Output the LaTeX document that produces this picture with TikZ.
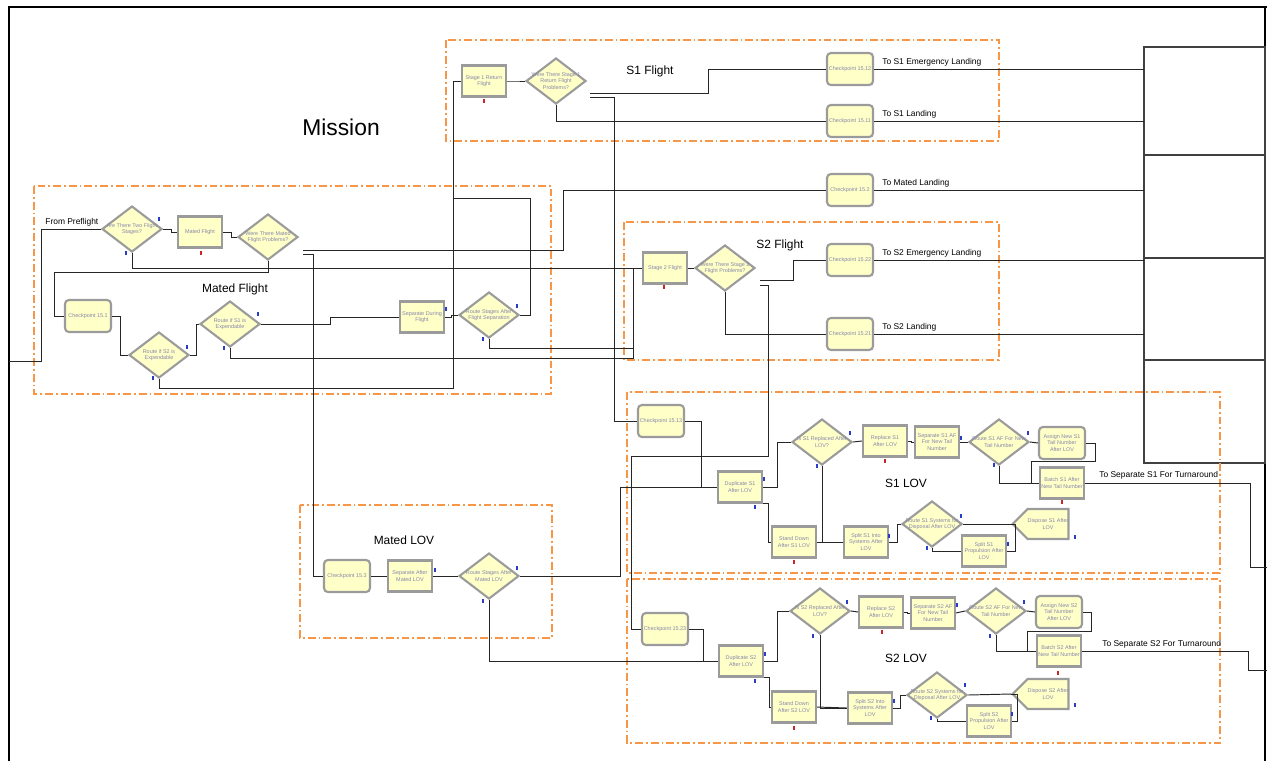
\documentclass[tikz,border=0pt]{standalone}
\usepackage{fontspec}
\setmainfont{Liberation Sans}
\usetikzlibrary{shapes.geometric,shapes.symbols,calc}

\definecolor{modfill}{RGB}{255,255,200}
\definecolor{modedge}{RGB}{155,155,155}
\definecolor{modtext}{RGB}{135,135,170}
\definecolor{grpline}{RGB}{247,150,70}
\definecolor{mkblue}{RGB}{40,60,200}
\definecolor{mkred}{RGB}{200,40,40}

\begin{document}
\begin{tikzpicture}[x=0.02cm, y=-0.02cm,
		wire/.style={line width=0.55pt, draw=black!85},
		grp/.style={draw=grpline, line width=0.6pt, dash pattern=on 4.5pt off 1.7pt on 1pt off 1.7pt},
		mod/.style={draw=modedge, line width=1.2pt, fill=modfill, inner sep=0pt, font=\fontsize{3.1}{3.6}\selectfont, text=modtext, align=center},
		box/.style={mod, rectangle, minimum width=0.88cm, minimum height=0.62cm},
		chk/.style={mod, rectangle, rounded corners=2.2pt, minimum width=0.92cm, minimum height=0.64cm},
		dec/.style={mod, diamond, minimum width=1.2cm, minimum height=0.92cm},
		disp/.style={mod, signal, signal to=west, signal from=nowhere, minimum width=1cm, minimum height=0.6cm},
		dtxt/.style={font=\fontsize{3.1}{3.6}\selectfont, text=modtext, align=center, inner sep=0pt},
		lbl/.style={font=\fontsize{4.8}{5.5}\selectfont, anchor=base west, inner sep=0pt},
		title/.style={font=\fontsize{6.8}{8}\selectfont, anchor=base, inner sep=0pt},
		cell/.style={draw=black!75, line width=0.6pt, anchor=north west, minimum width=2.42cm, inner sep=0pt, outer sep=0pt},
		bmark/.style={fill=mkblue},
		rmark/.style={fill=mkred}]
	\useasboundingbox (0,0) rectangle (1267,761);
	
	% 1. 外框与右侧出口方块
	\draw[line width=1.1pt] (9,761) -- (9,7) -- (1267,7);
	\draw[line width=0.6pt] (1265,7) -- (1265,761);
	\node[cell, minimum height=2.16cm] (exA) at (1144,47) {};
	\node[cell, minimum height=2.06cm] (exB) at (1144,155) {};
	\node[cell, minimum height=2.04cm] (exC) at (1144,258) {};
	\node[cell, minimum height=2.06cm] (exD) at (1144,360) {};
	
	% 2. 分组虚线框与标题
	\draw[grp] (34,186) rectangle (551,394);
	\draw[grp] (446,40) rectangle (999,141);
	\draw[grp] (624,222) rectangle (999,360);
	\draw[grp] (300,505) rectangle (552,638);
	\draw[grp] (627,392) rectangle (1220,573);
	\draw[grp] (627,579) rectangle (1220,743);
	\node[title, font=\fontsize{13}{15}\selectfont] (tmission) at (341,135) {Mission};
	\node[title] (tmatedfl) at (235,292) {Mated Flight};
	\node[title] (ts1fl) at (650,74) {S1 Flight};
	\node[title] (ts2fl) at (780,248) {S2 Flight};
	\node[title] (tmatedlov) at (404,544) {Mated LOV};
	\node[title] (ts1lov) at (906,487) {S1 LOV};
	\node[title] (ts2lov) at (906,662) {S2 LOV};
	
	% 3. 模块: Mated Flight
	\node[dec, label={[dtxt]center:Are There Two Flight\\Stages?}] (twostg) at (132,229) {};
	\node[box] (matedfl) at (200,232) {Mated Flight};
	\node[dec, label={[dtxt]center:Were There Mated\\Flight Problems?}] (matedprob) at (268,237) {};
	\node[chk] (ck151) at (88,316) {Checkpoint 15.1};
	\node[dec, label={[dtxt]center:Route if S2 is\\Expendable}] (rts2) at (159,355) {};
	\node[dec, label={[dtxt]center:Route if S1 is\\Expendable}] (rts1) at (230,324) {};
	\node[box] (sepfl) at (422,317) {Separate During\\Flight};
	\node[dec, label={[dtxt]center:Route Stages After\\Flight Separation}] (rtsep) at (489,315) {};
	
	% 4. 模块: S1 Flight / S2 Flight
	\node[box] (s1ret) at (484,81) {Stage 1 Return\\Flight};
	\node[dec, label={[dtxt]center:Were There Stage 1\\Return Flight\\Problems?}] (s1prob) at (556,81) {};
	\node[chk] (ck1512) at (850,69) {Checkpoint 15.12};
	\node[chk] (ck1511) at (850,121) {Checkpoint 15.11};
	\node[chk] (ck152) at (850,190) {Checkpoint 15.2};
	\node[box] (s2fl) at (665,268) {Stage 2 Flight};
	\node[dec, label={[dtxt]center:Were There Stage 2\\Flight Problems?}] (s2prob) at (725,268) {};
	\node[chk] (ck1522) at (850,260) {Checkpoint 15.22};
	\node[chk] (ck1521) at (850,334) {Checkpoint 15.21};
	
	% 5. 模块: Mated LOV
	\node[chk] (ck153) at (347,576) {Checkpoint 15.3};
	\node[box] (sepml) at (410,576) {Separate After\\Mated LOV};
	\node[dec, label={[dtxt]center:Route Stages After\\Mated LOV}] (rtml) at (489,576) {};
	
	% 6. 模块: S1 LOV
	\node[chk] (ck1513) at (661,421) {Checkpoint 15.13};
	\node[box] (dup1) at (740,487) {Duplicate S1\\After LOV};
	\node[dec, label={[dtxt]center:Is S1 Replaced After\\LOV?}] (isrep1) at (822,442) {};
	\node[box] (rep1) at (885,441) {Replace S1\\After LOV};
	\node[box] (sepaf1) at (937,442) {Separate S1 AF\\For New Tail\\Number};
	\node[dec, label={[dtxt]center:Route S1 AF For New\\Tail Number}] (rtaf1) at (999,442) {};
	\node[chk] (asg1) at (1062,443) {Assign New S1\\Tail Number\\After LOV};
	\node[box] (bat1) at (1062,483) {Batch S1 After\\New Tail Number};
	\node[box] (std1) at (794,542) {Stand Down\\After S1 LOV};
	\node[box] (spl1) at (866,542) {Split S1 Into\\Systems After\\LOV};
	\node[dec, label={[dtxt]center:Route S1 Systems for\\Disposal After LOV}] (rtsys1) at (932,524) {};
	\node[box] (splp1) at (984,551) {Split S1\\Propulsion After\\LOV};
	\node[disp] (dsp1) at (1048,524) {Dispose S1 After\\LOV};
	
	% 7. 模块: S2 LOV
	\node[chk] (ck1523) at (665,629) {Checkpoint 15.23};
	\node[box] (dup2) at (741,661) {Duplicate S2\\After LOV};
	\node[dec, label={[dtxt]center:Is S2 Replaced After\\LOV?}] (isrep2) at (820,611) {};
	\node[box] (rep2) at (881,612) {Replace S2\\After LOV};
	\node[box] (sepaf2) at (933,613) {Separate S2 AF\\For New Tail\\Number};
	\node[dec, label={[dtxt]center:Route S2 AF For New\\Tail Number}] (rtaf2) at (996,611) {};
	\node[chk] (asg2) at (1059,612) {Assign New S2\\Tail Number\\After LOV};
	\node[box] (bat2) at (1059,651) {Batch S2 After\\New Tail Number};
	\node[box] (std2) at (794,707) {Stand Down\\After S2 LOV};
	\node[box] (spl2) at (870,708) {Split S2 Into\\Systems After\\LOV};
	\node[dec, label={[dtxt]center:Route S2 Systems for\\Disposal After LOV}] (rtsys2) at (937,695) {};
	\node[box] (splp2) at (989,721) {Split S2\\Propulsion After\\LOV};
	\node[disp] (dsp2) at (1048,694) {Dispose S2 After\\LOV};
	
	% 8. 连线: Mated Flight
	\coordinate (pre) at (9,361);
	\draw[wire] (pre) -- (41,361) |- (twostg.west);
	\node[lbl] (lpre) at (45,224) {From Preflight};
	\draw[wire] (twostg.east) -- ++(8,0) |- (matedfl.west);
	\draw[wire] (matedfl.east) -- ++(8,0) |- (matedprob.west);
	\draw[wire] (twostg.south) |- (s2fl.west);
	\draw[wire] (matedprob.south) -- ++(0,11) -| ($(ck151.west)+(-9,0)$) -- (ck151.west);
	\draw[wire] ($(matedprob.east)+(4,13)$) -- (563,250) |- (ck152.west);
	\draw[wire] ($(matedprob.east)+(4,17)$) -- ++(10,0) |- (ck153.west);
	\draw[wire] (ck151.east) -- ++(8,0) |- (rts2.west);
	\draw[wire] (rts2.east) -- ++(6,0) |- (rts1.west);
	\draw[wire] (rts1.east) -- (330,324) |- (sepfl.west);
	\draw[wire] (sepfl.east) -- ++(6,0) |- (rtsep.west);
	\draw[wire] (rtsep.east) -- ++(10,0) |- (453,198) |- (s1ret.west);
	\draw[wire] (rts2.south) |- (453,388) |- (s1ret.west);
	\draw[wire] (rts1.south) |- (633,358) |- (s2fl.west);
	\draw[wire] (rtsep.south) |- (633,348) |- (s2fl.west);
	
	% 9. 连线: S1 Flight / S2 Flight
	\draw[wire] (s1ret.east) -- ++(8,0) |- (s1prob.west);
	\draw[wire] ($(s1prob.east)+(3,12)$) -- (708,93) |- (ck1512.west);
	\draw[wire] ($(s1prob.east)+(3,16)$) -- (614,97) |- (ck1513.west);
	\draw[wire] (s1prob.south) |- (ck1511.west);
	\draw[wire] (s2fl.east) -- (s2prob.west);
	\draw[wire] ($(s2prob.east)+(4,12)$) -- (793,280) |- (ck1522.west);
	\draw[wire] ($(s2prob.east)+(4,17)$) -- (768,285) -- (768,456) -| ($(ck1523.west)+(-9,0)$) -- (ck1523.west);
	\draw[wire] (s2prob.south) |- (ck1521.west);
	\draw[wire] (ck1512.east) -- (ck1512.east -| exA.west);
	\draw[wire] (ck1511.east) -- (ck1511.east -| exA.west);
	\draw[wire] (ck152.east) -- (ck152.east -| exA.west);
	\draw[wire] (ck1522.east) -- (ck1522.east -| exA.west);
	\draw[wire] (ck1521.east) -- (ck1521.east -| exA.west);
	\node[lbl] (l1512) at (882,64) {To S1 Emergency Landing};
	\node[lbl] (l1511) at (882,116) {To S1 Landing};
	\node[lbl] (l152) at (882,185) {To Mated Landing};
	\node[lbl] (l1522) at (882,255) {To S2 Emergency Landing};
	\node[lbl] (l1521) at (882,329) {To S2 Landing};
	
	% 10. 连线: Mated LOV
	\draw[wire] (ck153.east) -- (sepml.west);
	\draw[wire] (sepml.east) -- (rtml.west);
	\draw[wire] (rtml.east) -- (620,576) |- (dup1.west);
	\draw[wire] (rtml.south) |- (dup2.west);
	
	% 11. 连线: S1 LOV
	\draw[wire] (ck1513.east) -- (701,421) |- (dup1.west);
	\draw[wire] (dup1.east) -- (777,487) |- (isrep1.west);
	\draw[wire] (dup1.south east) -- ++(5,0) |- (std1.west);
	\draw[wire] (isrep1.east) -- (rep1.west);
	\draw[wire] (isrep1.south) |- (spl1.west);
	\draw[wire] (std1.east) -- (spl1.west);
	\draw[wire] (rep1.east) -- ++(3,0) |- (sepaf1.west);
	\draw[wire] (sepaf1.east) -- (rtaf1.west);
	\draw[wire] (rtaf1.east) -- (asg1.west);
	\draw[wire] (rtaf1.south) |- (bat1.west);
	\draw[wire] (asg1.east) -- ++(9,0) |- (1031,461) |- (bat1.west);
	\coordinate (out1) at (1267,567);
	\draw[wire] (bat1.east) -- (1250,483) |- (out1);
	\node[lbl] (lbat1) at (1099,477) {To Separate S1 For Turnaround};
	\draw[wire] (spl1.east) -- ++(8,0) |- (rtsys1.west);
	\draw[wire] (rtsys1.east) -- (dsp1.west);
	\draw[wire] (splp1.east) -- (1015,551) |- (dsp1.west);
	\draw[wire] (rtsys1.south) |- (splp1.west);
	
	% 12. 连线: S2 LOV
	\draw[wire] (ck1523.east) -- (703,629) |- (dup2.west);
	\draw[wire] (dup2.east) -- (777,661) |- (isrep2.west);
	\draw[wire] (dup2.south east) -- ++(5,0) |- (std2.west);
	\draw[wire] (isrep2.east) -- (rep2.west);
	\draw[wire] (isrep2.south) |- (spl2.west);
	\draw[wire] (std2.east) -- (spl2.west);
	\draw[wire] (rep2.east) -- ++(3,0) |- (sepaf2.west);
	\draw[wire] (sepaf2.east) -- (rtaf2.west);
	\draw[wire] (rtaf2.east) -- (asg2.west);
	\draw[wire] (rtaf2.south) |- (bat2.west);
	\draw[wire] (asg2.east) -- ++(8,0) |- (1027,631) |- (bat2.west);
	\coordinate (out2) at (1267,670);
	\draw[wire] (bat2.east) -- (1248,651) |- (out2);
	\node[lbl] (lbat2) at (1102,646) {To Separate S2 For Turnaround};
	\draw[wire] (spl2.east) -- ++(7,0) |- (rtsys2.west);
	\draw[wire] (rtsys2.east) -- (dsp2.west);
	\draw[wire] (splp2.east) -- (1017,721) |- (dsp2.west);
	\draw[wire] (rtsys2.south) |- (splp2.west);
	
	% 13. 动画小标记
	\foreach \mx/\my in {159/219, 126/253, 187/347, 153/378, 258/314, 224/348, 446/309, 517/306, 483/339,
			435/570, 517/568, 483/601, 764/479, 755/507, 850/433, 817/466, 889/536, 961/438, 1028/433, 994/465,
			961/516, 927/548, 1008/544, 1075/537, 765/654, 755/681, 847/602, 813/636, 894/701, 957/605,
			1024/602, 990/636, 965/685, 931/718, 1012/714, 1075/705}
		\fill[bmark] (\mx-0.7,\my-2) rectangle ++(1.4,4);
	\foreach \mx/\my in {201/253, 484/101, 664/287, 885/461, 794/562, 1062/502, 882/632, 794/728, 1058/673}
		\fill[rmark] (\mx-0.7,\my-2) rectangle ++(1.4,4);
\end{tikzpicture}
\end{document}
